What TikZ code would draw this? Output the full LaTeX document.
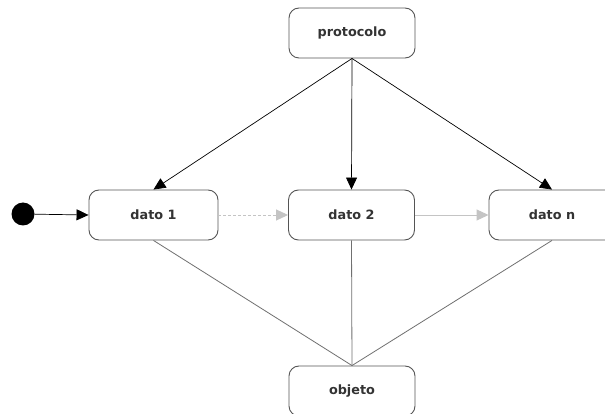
\documentclass[tikz,border=0pt]{standalone}
\usepackage{fontspec}
\setmainfont{DejaVu Sans}
\usetikzlibrary{arrows.meta}
\definecolor{boxline}{HTML}{555555}
\definecolor{txt}{HTML}{333333}
\definecolor{wire}{HTML}{707070}
\definecolor{flow}{HTML}{C4C4C4}
\begin{document}
\begin{tikzpicture}[x=1pt,y=-1pt,
  state/.style={draw=boxline, line width=0.9pt, rounded corners=10pt, fill=white,
    minimum width=126pt, minimum height=50pt, inner sep=0pt,
    font=\fontsize{12.8}{14}\selectfont\bfseries, text=txt},
  call/.style={draw=black, line width=0.7pt, -{Triangle[length=12pt,width=11pt]}},
  flowarr/.style={draw=flow, line width=0.9pt, -{Triangle[length=12pt,width=11pt,fill=flow]}},
  wirel/.style={draw=wire, line width=0.8pt}]
\useasboundingbox (0,0) rectangle (605,414);
\clip (0,0) rectangle (605,414);
\fill[white] (0,0) rectangle (605,414);

\node[state] (prot) at (352,33) {protocolo};
\node[state, minimum width=129pt] (d1) at (153.5,215) {dato 1};
\node[state] (d2) at (351.5,215) {dato 2};
\node[state] (dn) at (552,215) {dato n};
\node[state] (obj) at (352,391) {objeto};

\node[circle, fill=black, minimum size=23pt, inner sep=0pt] (init) at (23,214) {};

\draw[call] (init) -- (d1.west);
\draw[call] (prot.south) -- (d1.north);
\draw[call] (prot.south) -- (d2.north);
\draw[call] (prot.south) -- (dn.north);

\draw[flowarr, dashed, dash pattern=on 3pt off 2pt] (d1.east) -- (d2.west);
\draw[flowarr] (d2.east) -- (dn.west);

\draw[wirel] (d1.south) -- (obj.north);
\draw[wirel] (d2.south) -- (obj.north);
\draw[wirel] (dn.south) -- (obj.north);
\end{tikzpicture}
\end{document}
